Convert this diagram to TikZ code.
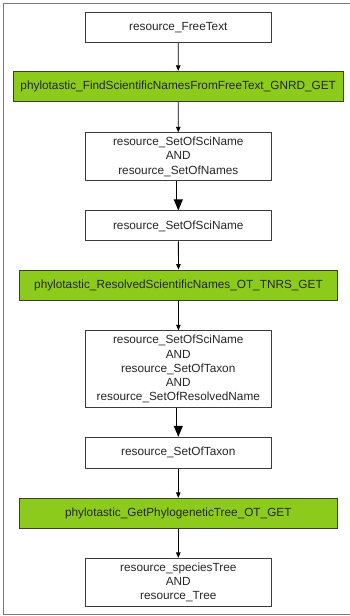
\documentclass[tikz,border=0pt]{standalone}
\usepackage{fontspec}
\setmainfont{Liberation Sans}
\usetikzlibrary{arrows.meta}
\definecolor{svcgreen}{RGB}{140,203,27}
\definecolor{edgegray}{RGB}{60,60,60}
\definecolor{framegray}{RGB}{120,120,120}
\tikzset{
  box/.style={draw=edgegray, line width=0.9pt, inner sep=0pt, align=center,
    font=\fontsize{11.8}{14.2}\selectfont, text=black!85},
  res/.style={box, fill=white, minimum width=185.3pt},
  svc/.style={box, fill=svcgreen, minimum height=30pt},
  flow/.style={draw=black, line width=0.8pt, -{Triangle[width=4.5pt,length=5.5pt]}},
  pass/.style={draw=black, double=white, double distance=2.6pt, line width=0.75pt,
    shorten >=10.5pt},
  passhead/.style={draw=none, fill=black},
}
\begin{document}
\begin{tikzpicture}[x=1pt, y=-1pt]
\useasboundingbox (0,0) rectangle (349,616);
% outer frame
\draw[framegray, line width=1.2pt] (352,3.5) -- (3.5,3.5) -- (3.5,614.5) -- (352,614.5);

\node[res, minimum height=30pt]   (ft)   at (178.3,27.7)  {resource\_FreeText};
\node[svc, minimum width=329.7pt] (gnrd) at (178.2,86.3)  {phylotastic\_FindScientificNamesFromFreeText\_GNRD\_GET};
\node[res, minimum height=48pt]   (sn)   at (178.3,156.7) {resource\_SetOfSciName\\AND\\resource\_SetOfNames};
\node[res, minimum height=30pt]   (sci)  at (178.3,225.9) {resource\_SetOfSciName};
\node[svc, minimum width=318.4pt] (tnrs) at (178.5,285)   {phylotastic\_ResolvedScientificNames\_OT\_TNRS\_GET};
\node[res, minimum height=77pt]   (rs)   at (178.3,369.2) {resource\_SetOfSciName\\AND\\resource\_SetOfTaxon\\AND\\\makebox[0pt]{resource\_SetOfResolvedName}};
\node[res, minimum height=31pt]   (tx)   at (178.3,452.8) {resource\_SetOfTaxon};
\node[svc, minimum width=318pt]   (tree) at (178.3,513.3) {phylotastic\_GetPhylogeneticTree\_OT\_GET};
\node[res, minimum height=47.7pt] (out)  at (178.3,582.2) {resource\_speciesTree\\AND\\resource\_Tree};

% service calls
\draw[flow] (ft) -- (gnrd);
\draw[flow] (gnrd) -- (sn);
\draw[flow] (sci) -- (tnrs);
\draw[flow] (tnrs) -- (rs);
\draw[flow] (tx) -- (tree);
\draw[flow] (tree) -- (out);

% subsumption passes: hollow shaft with a solid head
\draw[pass] (sn.south) -- (sci.north);
\fill[passhead] ([xshift=-4.6pt,yshift=11pt]sci.north) -- ([xshift=4.6pt,yshift=11pt]sci.north) -- (sci.north) -- cycle;
\draw[pass] (rs.south) -- (tx.north);
\fill[passhead] ([xshift=-4.6pt,yshift=11pt]tx.north) -- ([xshift=4.6pt,yshift=11pt]tx.north) -- (tx.north) -- cycle;
\end{tikzpicture}
\end{document}
